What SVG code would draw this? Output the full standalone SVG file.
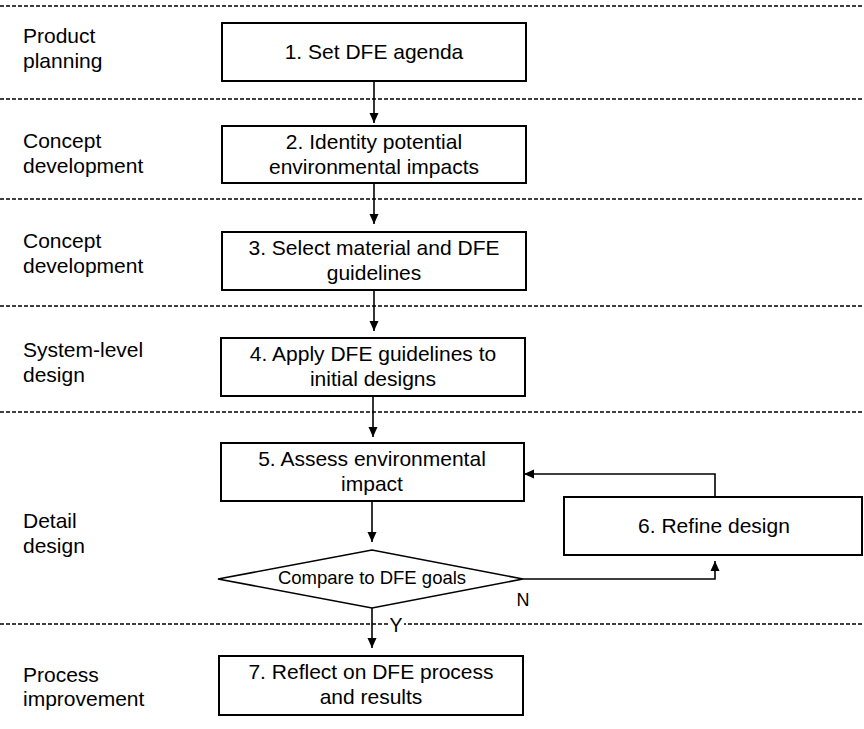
<svg xmlns="http://www.w3.org/2000/svg" width="864" height="729" viewBox="0 0 864 729">
  <defs>
    <style>
      .lane { stroke: #000; stroke-width: 1.3; stroke-dasharray: 4 2; fill: none; }
      .box { fill: #fff; stroke: #000; stroke-width: 2; }
      .dia { fill: #fff; stroke: #000; stroke-width: 1.6; }
      .wire { fill: none; stroke: #000; stroke-width: 1.6; }
      text { font-family: "Liberation Sans", Arial, Helvetica, sans-serif; fill: #000; }
      .t { font-size: 21px; text-anchor: middle; }
      .lbl { font-size: 21px; }
      .small { font-size: 18.5px; text-anchor: middle; }
    </style>
    <marker id="arrow" markerUnits="userSpaceOnUse" markerWidth="10" markerHeight="10" viewBox="0 0 10 10" refX="10" refY="5" orient="auto">
      <path d="M0,0.5 L10,5 L0,9.5 Z" fill="#000"/>
    </marker>
  </defs>

  <rect width="864" height="729" fill="#fff"/>

  <!-- phase separators -->
  <g id="lanes">
    <line class="lane" x1="0" y1="6" x2="864" y2="6"/>
    <line class="lane" x1="0" y1="99" x2="864" y2="99"/>
    <line class="lane" x1="0" y1="199" x2="864" y2="199"/>
    <line class="lane" x1="0" y1="306" x2="864" y2="306"/>
    <line class="lane" x1="0" y1="412" x2="864" y2="412"/>
    <line class="lane" x1="0" y1="624" x2="864" y2="624"/>
  </g>

  <!-- phase names -->
  <g id="phases">
    <text class="lbl" x="23" y="43">Product</text>
    <text class="lbl" x="23" y="68">planning</text>
    <text class="lbl" x="23" y="148">Concept</text>
    <text class="lbl" x="23" y="173">development</text>
    <text class="lbl" x="23" y="248">Concept</text>
    <text class="lbl" x="23" y="273">development</text>
    <text class="lbl" x="23" y="357">System-level</text>
    <text class="lbl" x="23" y="382">design</text>
    <text class="lbl" x="23" y="528">Detail</text>
    <text class="lbl" x="23" y="553">design</text>
    <text class="lbl" x="23" y="682">Process</text>
    <text class="lbl" x="23" y="706">improvement</text>
  </g>

  <!-- connectors -->
  <g id="connectors">
    <line class="wire" x1="374" y1="81" x2="374" y2="123" marker-end="url(#arrow)"/>
    <line class="wire" x1="374" y1="183" x2="374" y2="224" marker-end="url(#arrow)"/>
    <line class="wire" x1="374" y1="290" x2="374" y2="331" marker-end="url(#arrow)"/>
    <line class="wire" x1="373" y1="396" x2="373" y2="437" marker-end="url(#arrow)"/>
    <line class="wire" x1="372" y1="501" x2="372" y2="542" marker-end="url(#arrow)"/>
    <polyline class="wire" points="523,579 715,579 715,561" marker-end="url(#arrow)"/>
    <polyline class="wire" points="715,497 715,474 524,474" marker-end="url(#arrow)"/>
    <line class="wire" x1="372" y1="608" x2="372" y2="648" marker-end="url(#arrow)"/>
    <rect x="388" y="615" width="16" height="18" fill="#fff"/>
    <text x="396" y="632" font-size="19.5" text-anchor="middle">Y</text>
    <text x="523" y="606" font-size="18" text-anchor="middle">N</text>
  </g>

  <g id="step1">
    <rect class="box" x="222" y="23" width="304" height="58"/>
    <text class="t" x="374" y="59">1. Set DFE agenda</text>
  </g>

  <g id="step2">
    <rect class="box" x="222" y="126" width="304" height="57"/>
    <text class="t" x="374" y="149">2. Identity potential</text>
    <text class="t" x="374" y="174">environmental impacts</text>
  </g>

  <g id="step3">
    <rect class="box" x="222" y="232" width="304" height="58"/>
    <text class="t" x="374" y="255">3. Select material and DFE</text>
    <text class="t" x="374" y="280">guidelines</text>
  </g>

  <g id="step4">
    <rect class="box" x="221" y="338" width="304" height="58"/>
    <text class="t" x="373" y="361">4. Apply DFE guidelines to</text>
    <text class="t" x="373" y="386">initial designs</text>
  </g>

  <g id="step5">
    <rect class="box" x="221" y="443" width="303" height="58"/>
    <text class="t" x="372" y="466">5. Assess environmental</text>
    <text class="t" x="372" y="491">impact</text>
  </g>

  <g id="step6">
    <rect class="box" x="564" y="497" width="298" height="58"/>
    <text class="t" x="714" y="533">6. Refine design</text>
  </g>

  <g id="decision">
    <polygon class="dia" points="218,579 372,550 523,579 372,608"/>
    <text class="small" x="372" y="584">Compare to DFE goals</text>
  </g>

  <g id="step7">
    <rect class="box" x="219" y="656" width="304" height="59"/>
    <text class="t" x="371" y="679">7. Reflect on DFE process</text>
    <text class="t" x="371" y="704">and results</text>
  </g>
</svg>
